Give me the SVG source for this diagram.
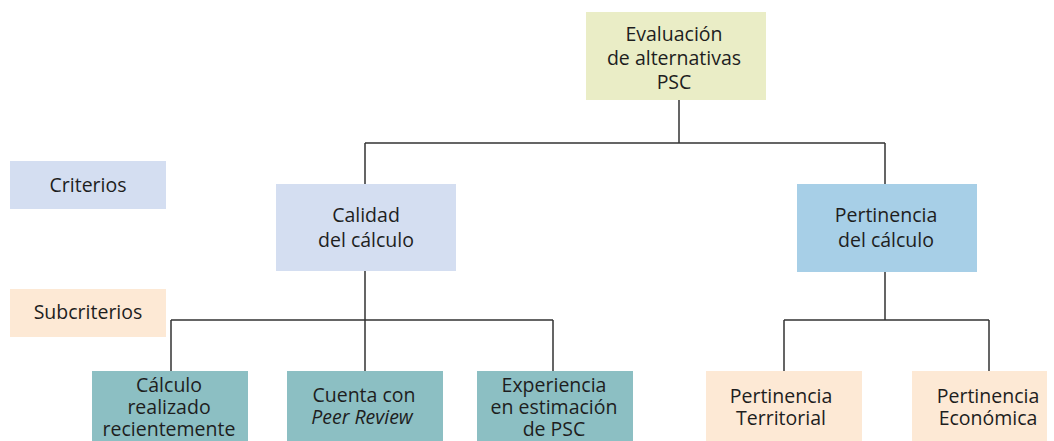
<svg xmlns="http://www.w3.org/2000/svg" width="1054" height="441" viewBox="0 0 1054 441">
<style>
text{font-family:"Open Sans","Noto Sans","DejaVu Sans",sans-serif;font-size:19.5px;fill:#1e1e1e;text-anchor:middle}
.c{stroke:#333;stroke-width:1.5;fill:none}
.top{fill:#EAEDC6}
.crit{fill:#D4DEF1}
.pert{fill:#A7CFE7}
.teal{fill:#8CBFC3}
.peach{fill:#FDE9D5}
</style>
<rect width="1054" height="441" fill="#fff"/>
<g id="connectors">
<path class="c" d="M679 99V143M365 143H885M365 143V184M885 143V184"/>
<path class="c" d="M365 271V371M171 320H553M171 320V371M553 320V371"/>
<path class="c" d="M885 272V320M784 320H989M784 320V371M989 320V371"/>
</g>
<g id="root"><rect class="top" x="586" y="12" width="180" height="88"/>
<text x="674" y="41">Evaluación</text><text x="674" y="65">de alternativas</text><text x="674" y="89">PSC</text></g>
<g id="legend-criterios"><rect class="crit" x="10" y="161" width="156" height="48"/><text x="88" y="192">Criterios</text></g>
<g id="legend-subcriterios"><rect class="peach" x="10" y="289" width="156" height="48"/><text x="88" y="319">Subcriterios</text></g>
<g id="calidad"><rect class="crit" x="276" y="184" width="180" height="87"/><text x="366" y="222">Calidad</text><text x="366" y="247">del cálculo</text></g>
<g id="pertinencia"><rect class="pert" x="797" y="184" width="180" height="88"/><text x="886" y="222">Pertinencia</text><text x="886" y="247">del cálculo</text></g>
<g id="calculo"><rect class="teal" x="92" y="371" width="156" height="72"/><text x="169" y="392">Cálculo</text><text x="169" y="414">realizado</text><text x="169" y="436">recientemente</text></g>
<g id="peer"><rect class="teal" x="287" y="371" width="156" height="72"/><text x="364" y="402">Cuenta con</text><text x="362" y="424" font-style="italic">Peer Review</text></g>
<g id="experiencia"><rect class="teal" x="477" y="371" width="156" height="72"/><text x="554" y="392">Experiencia</text><text x="554" y="414">en estimación</text><text x="554" y="436">de PSC</text></g>
<g id="territorial"><rect class="peach" x="706" y="371" width="156" height="72"/><text x="781" y="403">Pertinencia</text><text x="781" y="425">Territorial</text></g>
<g id="economica"><rect class="peach" x="912" y="371" width="135" height="72"/><text x="988" y="403">Pertinencia</text><text x="988" y="425">Económica</text></g>
</svg>
